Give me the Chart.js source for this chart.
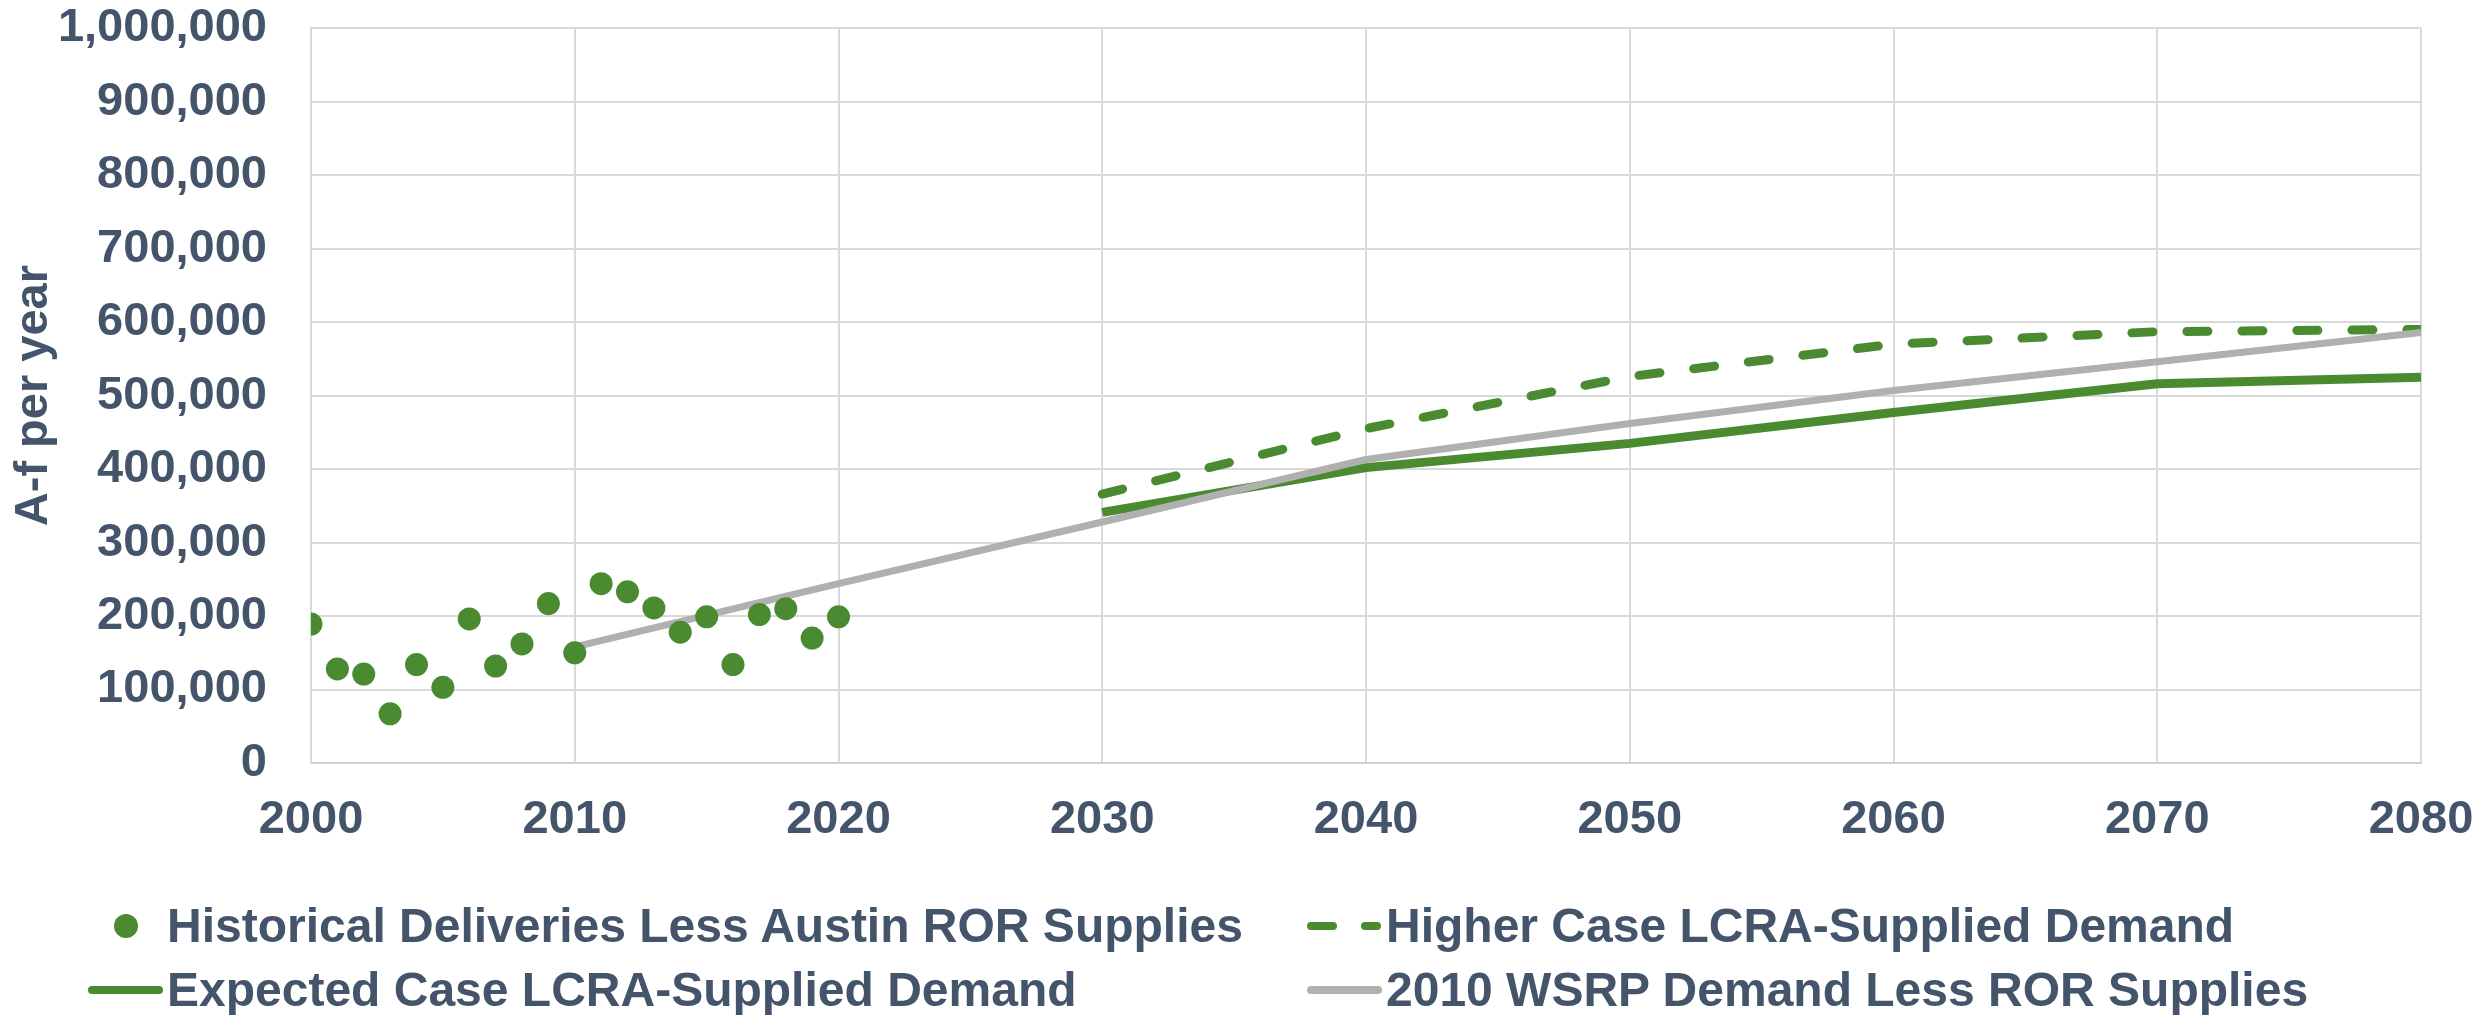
<!DOCTYPE html>
<html>
<head>
<meta charset="utf-8">
<script src="https://cdn.jsdelivr.net/npm/chart.js@4.4.1/dist/chart.umd.min.js"></script>
<style>
html,body{margin:0;padding:0;background:#fff;}
#wrap{position:relative;width:2491px;height:1015px;overflow:hidden;}
#c{position:absolute;left:0;top:0;}
.leg{position:absolute;font:bold 48px "Liberation Sans",Arial,sans-serif;color:#44546A;white-space:nowrap;line-height:1;}
.mk{position:absolute;}
</style>
</head>
<body>
<div id="wrap">
<canvas id="c" width="2491" height="1015"></canvas>
<div id="legend"></div>
</div>
<script>
// ---- data ----
const historicalYears = [2000,2001,2002,2003,2004,2005,2006,2007,2008,2009,2010,2011,2012,2013,2014,2015,2016,2017,2018,2019,2020];
const historicalValues = [189000,128000,121000,67000,134000,103000,196000,132000,162000,217000,150000,244000,233000,211000,178000,199000,134000,202000,210000,170000,199000];
const projectionYears = [2030,2040,2050,2060,2070,2080];
const expectedCase = [341000,402000,435000,477000,516000,525000];
const higherCase = [366000,455000,526000,570000,587000,590000];
const wsrpYears = [2010,2020,2030,2040,2050,2060,2070,2080];
const wsrpValues = [158000,244000,328000,413000,462000,507000,546000,586000];
const xTickValues = [2000,2010,2020,2030,2040,2050,2060,2070,2080];
const yTickValues = [0,100000,200000,300000,400000,500000,600000,700000,800000,900000,1000000];
const seriesNames = [
  'Historical Deliveries Less Austin ROR Supplies',
  'Higher Case LCRA-Supplied Demand',
  'Expected Case LCRA-Supplied Demand',
  '2010 WSRP Demand Less ROR Supplies'
];
const yTitle = 'A-f per year';

// ---- styles ----
const GREEN = '#4A8A30';
const GRAY = '#B0B0B0';
const TEXT = '#44546A';
const FONT = '"Liberation Sans", Arial, sans-serif';
const CLEAR = 'rgba(0,0,0,0)';

const pts = (xs, ys) => xs.map((x, i) => ({x: x, y: ys[i]}));

const chart = new Chart(document.getElementById('c'), {
  type: 'scatter',
  data: {
    datasets: [
      {label: seriesNames[0], data: pts(historicalYears, historicalValues), showLine: false,
       pointRadius: 11.5, pointBackgroundColor: GREEN, pointBorderWidth: 0, order: 0},
      {label: seriesNames[1], data: pts(projectionYears, higherCase), showLine: true,
       borderColor: GREEN, borderWidth: 9, borderDash: [21, 34], borderCapStyle: 'round',
       pointRadius: 0, order: 2},
      {label: seriesNames[2], data: pts(projectionYears, expectedCase), showLine: true,
       borderColor: GREEN, borderWidth: 9, pointRadius: 0, order: 3},
      {label: seriesNames[3], data: pts(wsrpYears, wsrpValues), showLine: true,
       borderColor: GRAY, borderWidth: 7, pointRadius: 0, order: 1}
    ]
  },
  options: {
    responsive: false,
    animation: false,
    devicePixelRatio: 1,
    layout: {padding: {left: 0, right: 70, top: 26, bottom: 0}},
    plugins: {legend: {display: false}, tooltip: {enabled: false}},
    scales: {
      x: {
        type: 'linear', min: 2000, max: 2080,
        afterBuildTicks: s => { s.ticks = xTickValues.map(v => ({value: v})); },
        afterFit: s => { s.height = 252; },
        grid: {color: '#D9D9D9', lineWidth: 2, drawTicks: true, tickLength: 29, tickColor: CLEAR},
        border: {color: '#CFCFCF', width: 2},
        ticks: {padding: 0, color: TEXT, font: {family: FONT, size: 47, weight: 'bold'},
                maxRotation: 0, autoSkip: false, callback: v => String(v)}
      },
      y: {
        type: 'linear', min: 0, max: 1000000,
        afterBuildTicks: s => { s.ticks = yTickValues.map(v => ({value: v})); },
        afterFit: s => { s.width = 311; },
        grid: {color: '#D9D9D9', lineWidth: 2, drawTicks: true, tickLength: 44, tickColor: CLEAR},
        border: {color: '#D9D9D9', width: 2},
        ticks: {padding: 0, color: TEXT, font: {family: FONT, size: 47, weight: 'bold'},
                autoSkip: false, callback: v => Number(v).toLocaleString('en-US')},
        title: {display: true, text: yTitle, color: TEXT, padding: {top: 6, bottom: 0},
                font: {family: FONT, size: 47, weight: 'bold'}}
      }
    }
  }
});

// ---- legend (HTML, two aligned columns) ----
const legend = document.getElementById('legend');
const items = [
  {ds: 0, col: 0, row: 0, kind: 'dot'},
  {ds: 1, col: 1, row: 0, kind: 'dash'},
  {ds: 2, col: 0, row: 1, kind: 'line'},
  {ds: 3, col: 1, row: 1, kind: 'line'}
];
const colX = [88, 1307];
const rowCenter = [926, 990];
items.forEach(it => {
  const ds = chart.data.datasets[it.ds];
  const x0 = colX[it.col], cy = rowCenter[it.row];
  const color = ds.borderColor || ds.pointBackgroundColor;
  if (it.kind === 'dot') {
    const d = document.createElement('div');
    d.className = 'mk';
    Object.assign(d.style, {left: (x0 + 26) + 'px', top: (cy - 12) + 'px', width: '24px', height: '24px',
      borderRadius: '50%', background: ds.pointBackgroundColor});
    legend.appendChild(d);
  } else if (it.kind === 'line') {
    const d = document.createElement('div');
    d.className = 'mk';
    Object.assign(d.style, {left: x0 + 'px', top: (cy - 4) + 'px', width: '75px', height: '8px',
      borderRadius: '4px', background: color});
    legend.appendChild(d);
  } else {
    [[0, 30], [54, 20]].forEach(([o, w]) => {
      const d = document.createElement('div');
      d.className = 'mk';
      Object.assign(d.style, {left: (x0 + o) + 'px', top: (cy - 4) + 'px', width: w + 'px', height: '8px',
        borderRadius: '4px', background: color});
      legend.appendChild(d);
    });
  }
  const t = document.createElement('div');
  t.className = 'leg';
  t.textContent = ds.label;
  t.style.left = (x0 + 79) + 'px';
  t.style.top = (cy - 24) + 'px';
  legend.appendChild(t);
});
</script>
</body>
</html>
